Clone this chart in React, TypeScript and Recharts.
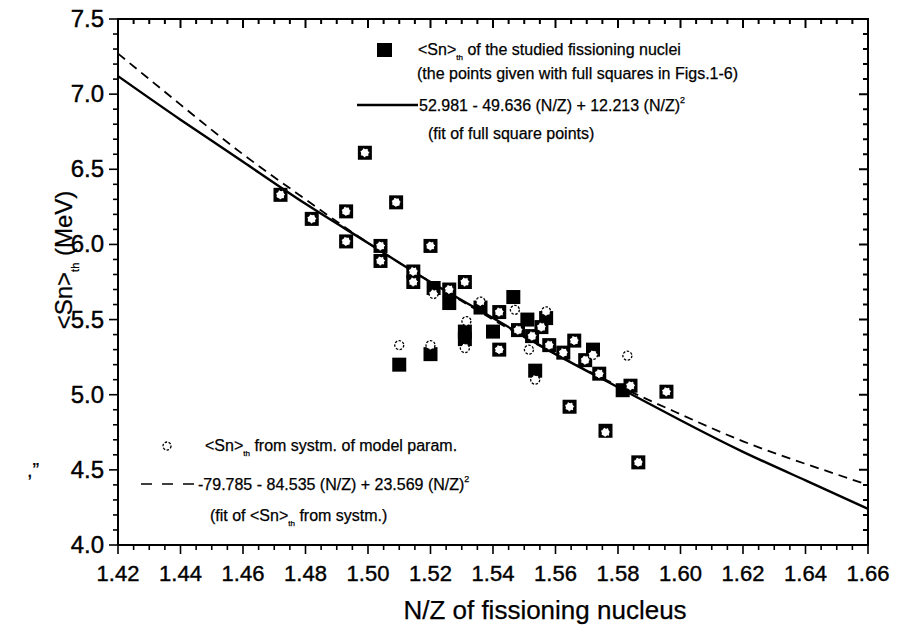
import React from 'react';
import { ComposedChart, Scatter, Line, XAxis, YAxis } from 'recharts';

// ── Axis ticks ────────────────────────────────────────────────────────────────

const X_DOMAIN: [number, number] = [1.42, 1.66];
const Y_DOMAIN: [number, number] = [4.0, 7.5];
const X_MAJOR_TICKS = [1.42, 1.44, 1.46, 1.48, 1.5, 1.52, 1.54, 1.56, 1.58, 1.6, 1.62, 1.64, 1.66];
const Y_MAJOR_TICKS = [4.0, 4.5, 5.0, 5.5, 6.0, 6.5, 7.0, 7.5];
const X_MINOR_STEP = 0.005;
const Y_MINOR_STEP = 0.1;

// ── Data ──────────────────────────────────────────────────────────────────────

// <Sn>th of the studied fissioning nuclei (full squares)
const FULL_SQUARES: [number, number][] = [
  [1.472, 6.33], [1.482, 6.17], [1.493, 6.22], [1.493, 6.02], [1.499, 6.61],
  [1.504, 5.99], [1.504, 5.89], [1.509, 6.28], [1.51, 5.2], [1.5145, 5.82],
  [1.5145, 5.75], [1.52, 5.99], [1.52, 5.27], [1.521, 5.71], [1.526, 5.7],
  [1.526, 5.61], [1.531, 5.75], [1.531, 5.42], [1.531, 5.37], [1.536, 5.58],
  [1.54, 5.42], [1.542, 5.55], [1.542, 5.3], [1.5465, 5.65], [1.548, 5.43],
  [1.551, 5.5], [1.5525, 5.39], [1.5535, 5.16], [1.5555, 5.45], [1.557, 5.51],
  [1.558, 5.33], [1.5625, 5.28], [1.5645, 4.92], [1.566, 5.36], [1.5695, 5.23],
  [1.572, 5.3], [1.574, 5.14], [1.576, 4.76], [1.5815, 5.03], [1.584, 5.06],
  [1.5865, 4.55], [1.5955, 5.02],
];

// <Sn>th from systematics of model parameters (open circles)
const OPEN_CIRCLES: [number, number][] = [
  [1.472, 6.33], [1.482, 6.17], [1.493, 6.22], [1.493, 6.02], [1.499, 6.61],
  [1.504, 5.99], [1.504, 5.89], [1.509, 6.28], [1.51, 5.33], [1.5145, 5.82],
  [1.5145, 5.75], [1.52, 5.99], [1.52, 5.33], [1.521, 5.67], [1.526, 5.7],
  [1.531, 5.75], [1.5315, 5.49], [1.531, 5.31], [1.536, 5.62], [1.542, 5.55],
  [1.542, 5.3], [1.547, 5.565], [1.548, 5.43], [1.5515, 5.3], [1.5525, 5.39],
  [1.5535, 5.1], [1.5555, 5.45], [1.557, 5.555], [1.558, 5.33], [1.5625, 5.28],
  [1.5645, 4.92], [1.566, 5.36], [1.5695, 5.23], [1.572, 5.265], [1.574, 5.14],
  [1.576, 4.75], [1.583, 5.26], [1.584, 5.06], [1.5865, 4.55], [1.5955, 5.02],
];

// fit curves, read at every major x tick
const FIT_X = [1.42, 1.44, 1.46, 1.48, 1.5, 1.52, 1.54, 1.56, 1.58, 1.6, 1.62, 1.64, 1.66];
const FIT_SQUARES_Y = [7.12, 6.83, 6.55, 6.27, 6.01, 5.75, 5.51, 5.27, 5.05, 4.83, 4.62, 4.43, 4.24];
const FIT_SYSTM_Y = [7.27, 6.93, 6.6, 6.3, 6.01, 5.75, 5.5, 5.27, 5.06, 4.87, 4.69, 4.54, 4.4];

const FONT = 'Arial, "Liberation Sans", sans-serif';

// ── Layout ────────────────────────────────────────────────────────────────────

const W = 903;
const H = 632;
const MARGIN = { top: 19, right: 35, bottom: 0, left: 0 };
const Y_AXIS_W = 118;
const X_AXIS_H = 87;
const PLOT_L = MARGIN.left + Y_AXIS_W;
const PLOT_T = MARGIN.top;
const PLOT_W = W - MARGIN.left - MARGIN.right - Y_AXIS_W;
const PLOT_H = H - MARGIN.top - MARGIN.bottom - X_AXIS_H;

// ── Helpers ───────────────────────────────────────────────────────────────────

function stepTicks(min: number, max: number, step: number): number[] {
  const n = Math.round((max - min) / step);
  const out: number[] = [];
  for (let i = 0; i <= n; i++) out.push(+(min + i * step).toFixed(4));
  return out;
}

const isMajor = (v: number, majors: number[]) => majors.some((m) => Math.abs(m - v) < 1e-6);

const X_TICKS = stepTicks(X_DOMAIN[0], X_DOMAIN[1], X_MINOR_STEP);
const Y_TICKS = stepTicks(Y_DOMAIN[0], Y_DOMAIN[1], Y_MINOR_STEP);

// same linear mapping as the chart axes, used only for the mirrored frame ticks
const fx = (v: number) => PLOT_L + ((v - X_DOMAIN[0]) / (X_DOMAIN[1] - X_DOMAIN[0])) * PLOT_W;
const fy = (v: number) => PLOT_T + ((Y_DOMAIN[1] - v) / (Y_DOMAIN[1] - Y_DOMAIN[0])) * PLOT_H;

const toPoints = (rows: [number, number][]) => rows.map(([x, y]) => ({ x, y }));
const squareData = toPoints(FULL_SQUARES);
const circleData = toPoints(OPEN_CIRCLES);
const fitSquares = FIT_X.map((x, i) => ({ x, y: FIT_SQUARES_Y[i] }));
const fitSystm = FIT_X.map((x, i) => ({ x, y: FIT_SYSTM_Y[i] }));

// frame path: top edge + right edge + inward mirrored ticks, as one path
const FRAME_PATH = [
  `M${PLOT_L},${PLOT_T}H${PLOT_L + PLOT_W}V${PLOT_T + PLOT_H}`,
  ...X_TICKS.map((v) => `M${fx(v)},${PLOT_T}v${isMajor(v, X_MAJOR_TICKS) ? 8 : 4}`),
  ...Y_TICKS.map((v) => `M${PLOT_L + PLOT_W},${fy(v)}h${isMajor(v, Y_MAJOR_TICKS) ? -8 : -4}`),
].join('');

// ── Tick renderers (tickSize=0, so x/y sit on the axis line) ──────────────────

function BottomTick({ x, y, payload }: any) {
  const major = isMajor(payload.value, X_MAJOR_TICKS);
  return (
    <g>
      <line x1={x} x2={x} y1={y} y2={y + (major ? 9 : 5)} stroke="#000" strokeWidth={1.6} />
      {major && (
        <text x={x} y={y + 36} textAnchor="middle" fontSize={22} fontFamily={FONT} fill="#000" stroke="#000" strokeWidth={0.4}>
          {payload.value.toFixed(2)}
        </text>
      )}
    </g>
  );
}

function LeftTick({ x, y, payload }: any) {
  const major = isMajor(payload.value, Y_MAJOR_TICKS);
  return (
    <g>
      <line x1={x} x2={x - (major ? 9 : 5)} y1={y} y2={y} stroke="#000" strokeWidth={1.6} />
      {major && (
        <text x={x - 14} y={y + 8} textAnchor="end" fontSize={24} fontFamily={FONT} fill="#000" stroke="#000" strokeWidth={0.4}>
          {payload.value.toFixed(1)}
        </text>
      )}
    </g>
  );
}

// ── Markers ───────────────────────────────────────────────────────────────────

function SquareMark({ cx, cy }: any) {
  if (cx == null || cy == null) return null;
  return <rect x={cx - 7} y={cy - 7} width={14} height={14} fill="#000" />;
}

function CircleMark({ cx, cy }: any) {
  if (cx == null || cy == null) return null;
  return (
    <circle cx={cx} cy={cy} r={4.5} fill="#fff" stroke="#000" strokeWidth={1.3} strokeDasharray="2.5 1.5" />
  );
}

// ── Main ──────────────────────────────────────────────────────────────────────

export default function App() {
  const txt = { fontFamily: FONT, fill: '#000', stroke: '#000', strokeWidth: 0.25 };
  return (
    <div style={{ position: 'absolute', left: 0, top: 0, width: W, height: H, background: '#fff' }}>
      <ComposedChart width={W} height={H} margin={MARGIN}>
        <XAxis
          xAxisId="x"
          type="number"
          dataKey="x"
          domain={X_DOMAIN}
          allowDataOverflow
          ticks={X_TICKS}
          interval={0}
          height={X_AXIS_H}
          tickSize={0}
          tickMargin={0}
          tickLine={false}
          axisLine={{ stroke: '#000', strokeWidth: 2 }}
          tick={<BottomTick />}
        />
        <YAxis
          yAxisId="y"
          type="number"
          dataKey="y"
          domain={Y_DOMAIN}
          allowDataOverflow
          ticks={Y_TICKS}
          interval={0}
          width={Y_AXIS_W}
          tickSize={0}
          tickMargin={0}
          tickLine={false}
          axisLine={{ stroke: '#000', strokeWidth: 2 }}
          tick={<LeftTick />}
        />

        <Line
          xAxisId="x"
          yAxisId="y"
          data={fitSystm}
          dataKey="y"
          type="natural"
          stroke="#000"
          strokeWidth={1.8}
          strokeDasharray="9 6"
          dot={false}
          activeDot={false}
          isAnimationActive={false}
        />
        <Line
          xAxisId="x"
          yAxisId="y"
          data={fitSquares}
          dataKey="y"
          type="natural"
          stroke="#000"
          strokeWidth={2.4}
          dot={false}
          activeDot={false}
          isAnimationActive={false}
        />
        <Scatter xAxisId="x" yAxisId="y" data={squareData} shape={<SquareMark />} isAnimationActive={false} />
        <Scatter xAxisId="x" yAxisId="y" data={circleData} shape={<CircleMark />} isAnimationActive={false} />
      </ComposedChart>

      <svg
        width={W}
        height={H}
        viewBox={`0 0 ${W} ${H}`}
        style={{ position: 'absolute', left: 0, top: 0, pointerEvents: 'none', overflow: 'visible' }}
      >
        {/* box frame: top and right edges with inward mirrored ticks */}
        <path d={FRAME_PATH} fill="none" stroke="#000000" strokeWidth={2} strokeLinecap="square" />

        {/* titles */}
        <text {...txt} fontSize={26} textAnchor="middle" x={545} y={619}>
          N/Z of fissioning nucleus
        </text>
        <text {...txt} fontSize={24} textAnchor="middle" transform="translate(72,260) rotate(-90)">
          &lt;Sn&gt;<tspan fontSize={11} dy={7}>th</tspan>
          <tspan dy={-7}> (MeV)</tspan>
        </text>
        <text {...txt} fontSize={20} x={27} y={477}>,”</text>

        {/* upper legend */}
        <rect x={377} y={43} width={15} height={14} fill="#000" />
        <text {...txt} fontSize={16} x={418} y={55}>
          &lt;Sn&gt;<tspan fontSize={8} dy={5}>th</tspan>
          <tspan dy={-5}> of the studied fissioning nuclei</tspan>
        </text>
        <text {...txt} fontSize={16} x={417} y={79}>
          (the points given with full squares in Figs.1-6)
        </text>
        <line x1={357} x2={418} y1={105} y2={105} stroke="#000" strokeWidth={2.6} />
        <text {...txt} fontSize={16} x={419} y={111}>
          52.981 - 49.636 (N/Z) + 12.213 (N/Z)<tspan fontSize={9} dy={-8}>2</tspan>
        </text>
        <text {...txt} fontSize={16} x={428} y={139}>
          (fit of full square points)
        </text>

        {/* lower legend */}
        <circle cx={167} cy={446} r={4} fill="#fff" stroke="#000" strokeWidth={1.3} strokeDasharray="2.5 1.5" />
        <text {...txt} fontSize={16} x={205} y={451}>
          &lt;Sn&gt;<tspan fontSize={8} dy={5}>th</tspan>
          <tspan dy={-5}> from systm. of model param.</tspan>
        </text>
        <line x1={141} x2={194} y1={484} y2={484} stroke="#000" strokeWidth={1.6} strokeDasharray="11 10" />
        <text {...txt} fontSize={16} x={198} y={490}>
          -79.785 - 84.535 (N/Z) + 23.569 (N/Z)<tspan fontSize={9} dy={-8}>2</tspan>
        </text>
        <text {...txt} fontSize={16} x={210} y={521}>
          (fit of &lt;Sn&gt;<tspan fontSize={8} dy={5}>th</tspan>
          <tspan dy={-5}> from systm.)</tspan>
        </text>
      </svg>
    </div>
  );
}
